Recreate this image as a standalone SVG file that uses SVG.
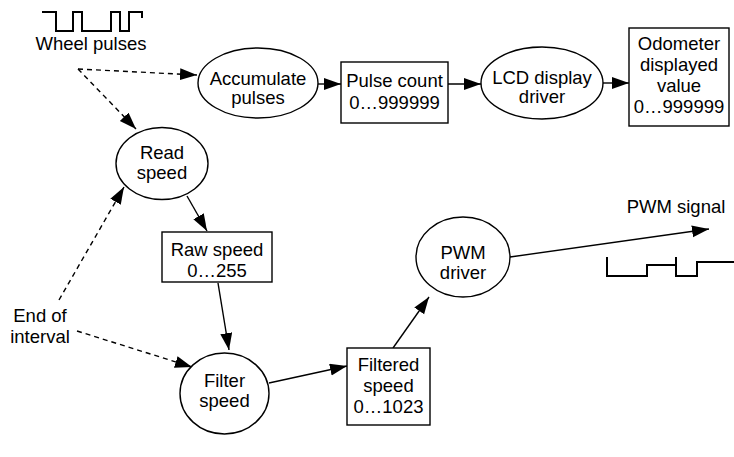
<svg xmlns="http://www.w3.org/2000/svg" width="734" height="457" viewBox="0 0 734 457">
<defs>
<marker id="ah" markerUnits="userSpaceOnUse" markerWidth="19" markerHeight="14" refX="17" refY="6" orient="auto">
<path d="M0,0 L17,6 L0,12 z" fill="#000"/>
</marker>
</defs>
<style>
text{font-family:"Liberation Sans",Arial,sans-serif;font-size:18.5px;fill:#000;text-anchor:middle}
.n{fill:#fff;stroke:#000;stroke-width:1.4}
.c{fill:none;stroke:#000;stroke-width:1.4;marker-end:url(#ah)}
.d{stroke-dasharray:5 4}
.w{fill:none;stroke:#000;stroke-width:2}
</style>
<rect width="734" height="457" fill="#fff"/>
<g id="wheel-pulses">
<path class="w" d="M42,12 H56 V31 H73 V12 H82 V31 H111 V12 H120 V31 H129 V12 H142 V18"/>
<text x="91" y="50">Wheel pulses</text>
</g>
<g id="end-of-interval">
<text x="40" y="322">End of</text>
<text x="40" y="343">interval</text>
</g>
<g id="pwm-signal">
<path class="w" d="M607,257 V276 H647 V265 H676 V257 M676,265 V276 H697 V262 H734"/>
<text x="676" y="213">PWM signal</text>
</g>
<g id="connectors">
<line class="c d" x1="78" y1="69" x2="197" y2="75"/>
<line class="c d" x1="78" y1="69" x2="136" y2="129"/>
<line class="c" x1="318" y1="84" x2="341" y2="84"/>
<line class="c" x1="448" y1="84" x2="481" y2="84"/>
<line class="c" x1="603" y1="83" x2="629" y2="83"/>
<line class="c" x1="187" y1="196" x2="207" y2="231"/>
<line class="c" x1="218" y1="283" x2="229" y2="350"/>
<line class="c d" x1="59" y1="300" x2="124" y2="187"/>
<line class="c d" x1="77" y1="331" x2="192" y2="367"/>
<line class="c" x1="269" y1="383" x2="347" y2="366"/>
<line class="c" x1="393" y1="348" x2="429" y2="297"/>
<line class="c" x1="510" y1="257" x2="709" y2="229"/>
</g>
<g id="accumulate-pulses">
<ellipse class="n" cx="258" cy="83" rx="60" ry="35"/>
<text x="258" y="85">Accumulate</text>
<text x="258" y="104">pulses</text>
</g>
<g id="pulse-count">
<rect class="n" x="341" y="62" width="107" height="61"/>
<text x="394.5" y="87">Pulse count</text>
<text x="394.5" y="109">0…999999</text>
</g>
<g id="lcd-display-driver">
<ellipse class="n" cx="542" cy="83" rx="61" ry="36"/>
<text x="542" y="84">LCD display</text>
<text x="542" y="103">driver</text>
</g>
<g id="odometer">
<rect class="n" x="629" y="28" width="100" height="98"/>
<text x="679" y="50">Odometer</text>
<text x="679" y="71">displayed</text>
<text x="679" y="92">value</text>
<text x="679" y="113">0…999999</text>
</g>
<g id="read-speed">
<ellipse class="n" cx="162" cy="163.5" rx="46" ry="36"/>
<text x="162" y="159">Read</text>
<text x="162" y="179">speed</text>
</g>
<g id="raw-speed">
<rect class="n" x="162" y="232" width="110" height="50"/>
<text x="217" y="256">Raw speed</text>
<text x="217" y="277">0…255</text>
</g>
<g id="filter-speed">
<ellipse class="n" cx="224.5" cy="393.5" rx="44.5" ry="40.5"/>
<text x="224.5" y="387">Filter</text>
<text x="224.5" y="407">speed</text>
</g>
<g id="filtered-speed">
<rect class="n" x="347" y="348" width="83" height="77"/>
<text x="388.5" y="371">Filtered</text>
<text x="388.5" y="392">speed</text>
<text x="388.5" y="413">0…1023</text>
</g>
<g id="pwm-driver">
<ellipse class="n" cx="463" cy="257" rx="47" ry="40"/>
<text x="463" y="259">PWM</text>
<text x="463" y="279">driver</text>
</g>
</svg>
